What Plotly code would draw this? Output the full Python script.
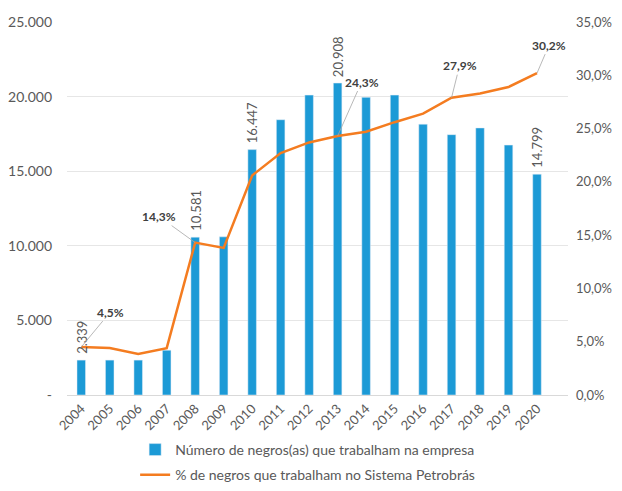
import plotly.graph_objects as go

anos = [str(a) for a in range(2004, 2021)]
negros = [2339, 2339, 2339, 3000, 10581, 10600, 16447, 18450, 20100, 20908,
          19950, 20100, 18150, 17450, 17900, 16750, 14799]
pct_negros = [4.5, 4.4, 3.85, 4.4, 14.3, 13.8, 20.6, 22.7, 23.7, 24.3,
              24.7, 25.6, 26.4, 27.9, 28.3, 28.9, 30.2]

# rótulos que aparecem no gráfico original
rotulos_barras = {"2004": "2.339", "2008": "10.581", "2010": "16.447",
                  "2013": "20.908", "2020": "14.799"}
rotulos_linha = {"2004": ("4,5%", 29, -35), "2008": ("14,3%", -36, -26),
                 "2013": ("24,3%", 24, -54), "2017": ("27,9%", 8, -32),
                 "2020": ("30,2%", 12, -28)}

esq_vals = [0, 5000, 10000, 15000, 20000, 25000]
esq_text = ["-", "5.000", "10.000", "15.000", "20.000", "25.000"]
dir_vals = [0, 5, 10, 15, 20, 25, 30, 35]
dir_text = ["0,0%", "5,0%", "10,0%", "15,0%", "20,0%", "25,0%", "30,0%", "35,0%"]

AZUL = "#1C9AD6"
LARANJA = "#F47C20"
CINZA = "#595959"

fig = go.Figure()
fig.add_trace(go.Bar(
    x=anos, y=negros, width=0.3, marker_color=AZUL,
    name="Número de negros(as) que trabalham na empresa",
    legendgroup="a",
))
fig.add_trace(go.Scatter(
    x=anos, y=pct_negros, yaxis="y2", mode="lines",
    line=dict(color=LARANJA, width=2.5),
    name="% de negros que trabalham no Sistema Petrobrás",
    legendgroup="b",
))

# no eixo categórico a anotação usa o índice da categoria
for ano, txt in rotulos_barras.items():
    i = anos.index(ano)
    fig.add_annotation(x=i, y=negros[i], yref="y", text=txt, textangle=-90,
                       showarrow=False, yanchor="bottom", yshift=4,
                       font=dict(size=13, color=CINZA))

for ano, (txt, ax, ay) in rotulos_linha.items():
    i = anos.index(ano)
    fig.add_annotation(x=i, y=pct_negros[i], yref="y2", text="<b>" + txt + "</b>",
                       showarrow=True, arrowhead=0, arrowwidth=0.8,
                       arrowcolor="#A6A6A6", ax=ax, ay=ay, standoff=0,
                       font=dict(size=12, color="#404040"))

# a página tem 8px de margem no body, por isso a figura é 8px menor
fig.update_layout(
    width=614, height=483,
    margin=dict(l=59, r=54, t=14, b=96),
    plot_bgcolor="white", paper_bgcolor="white",
    font=dict(family="Lato, Open Sans, sans-serif", size=14, color=CINZA),
    bargap=0.7,
    showlegend=True,
    legend=dict(x=0.136, y=0.0, xanchor="left", yanchor="bottom",
                yref="container", traceorder="grouped", tracegroupgap=4,
                itemwidth=30, font=dict(size=14, color=CINZA)),
    xaxis=dict(type="category", tickangle=-45, showline=True,
               linecolor="#D9D9D9", ticks="", automargin=False,
               tickfont=dict(size=13, color=CINZA)),
    yaxis=dict(range=[0, 25000], tickvals=esq_vals, ticktext=esq_text,
               showgrid=True, gridcolor="#E6E6E6", zeroline=False,
               automargin=False, ticklabelstandoff=14,
               tickfont=dict(size=14, color=CINZA)),
    yaxis2=dict(range=[0, 35], tickvals=dir_vals, ticktext=dir_text,
                overlaying="y", side="right", showgrid=False, zeroline=False,
                automargin=False, ticklabelstandoff=7,
                tickfont=dict(size=13, color=CINZA)),
)

fig.write_html("out.html")
